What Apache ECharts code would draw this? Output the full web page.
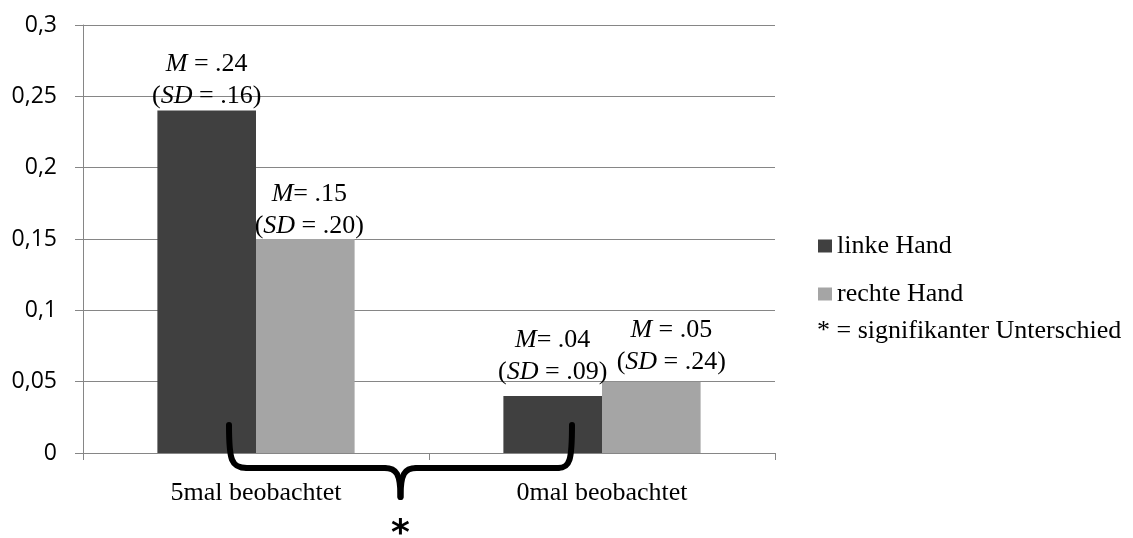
<!DOCTYPE html>
<html><head><meta charset="utf-8">
<script src="https://cdn.jsdelivr.net/npm/echarts@6/dist/echarts.min.js"></script>
<style>html,body{margin:0;padding:0;background:#fff}#c{width:1133px;height:538px}</style>
</head><body><div id="c"></div>
<script>
const categories = ["5mal beobachtet", "0mal beobachtet"];
const seriesNames = ["linke Hand", "rechte Hand"];
const linkeHand = [0.24, 0.04];
const rechteHand = [0.15, 0.05];
const linkeLabels = ["{i|M} = .24\n({i|SD} = .16)", "{i|M}= .04\n({i|SD} = .09)"];
const rechteLabels = ["{i|M}= .15\n({i|SD} = .20)", "{i|M} = .05\n({i|SD} = .24)"];
const yTicks = [0, 0.05, 0.1, 0.15, 0.2, 0.25, 0.3];
const noteText = "* = signifikanter Unterschied";

const serif = "'Liberation Serif', 'Times New Roman', serif";
const labelOffsets = [[[0, 2], [0, -8]], [[4, 3], [20, -3]]];

function mkData(vals, labels, si) {
  return vals.map((v, i) => ({
    value: v,
    label: { formatter: labels[i], offset: labelOffsets[si][i] }
  }));
}
const labelStyle = {
  show: true, position: 'top', distance: 0, color: '#000',
  fontFamily: serif, fontSize: 26, lineHeight: 32,
  rich: { i: { fontStyle: 'italic', fontFamily: serif, fontSize: 26, lineHeight: 32, color: '#000' } }
};

const chart = echarts.init(document.getElementById('c'), null, { renderer: 'canvas' });
chart.setOption({
  animation: false,
  backgroundColor: '#fff',
  grid: { left: 83, right: 358, top: 25, bottom: 85, containLabel: false },
  legend: {
    orient: 'vertical', left: 818, top: 233, padding: 0,
    itemWidth: 14, itemHeight: 13, itemGap: 22, icon: 'rect',
    textStyle: { fontFamily: serif, fontSize: 26, color: '#000' },
    data: seriesNames
  },
  xAxis: {
    type: 'category', data: categories,
    axisLine: { lineStyle: { color: '#868686', width: 1 } },
    axisTick: { show: true, length: 7, lineStyle: { color: '#868686' } },
    axisLabel: { color: '#000', fontFamily: serif, fontSize: 26, margin: 27 }
  },
  yAxis: {
    type: 'value', min: 0, max: 0.3, interval: 0.05,
    axisLine: { show: true, lineStyle: { color: '#868686', width: 1 } },
    axisTick: { show: true, length: 8, lineStyle: { color: '#868686' } },
    splitLine: { lineStyle: { color: '#868686', width: 1 } },
    axisLabel: {
      color: '#000', fontFamily: "'Open Sans', sans-serif", fontSize: 23, margin: 26,
      formatter: v => { const t = yTicks.find(x => Math.abs(x - v) < 1e-9); return String(t !== undefined ? t : v).replace('.', ','); }
    }
  },
  series: [
    { name: seriesNames[0], type: 'bar', data: mkData(linkeHand, linkeLabels, 0), barGap: '0%', barCategoryGap: '43%',
      itemStyle: { color: '#404040' }, label: labelStyle },
    { name: seriesNames[1], type: 'bar', data: mkData(rechteHand, rechteLabels, 1), barGap: '0%', barCategoryGap: '43%',
      itemStyle: { color: '#a5a5a5' }, label: labelStyle }
  ]
});

// brace annotation below the axis, anchored to the grid
const p0 = chart.convertToPixel({ gridIndex: 0 }, [0, 0]);
const p1 = chart.convertToPixel({ gridIndex: 0 }, [1, 0]);
const base = p0[1];
const xl = p0[0] - 27, xr = p1[0] - 30, xm = (xl + xr) / 2;
const yt = base - 28, yh = base + 15, yp = base + 44;
const st = { stroke: '#000', lineWidth: 6, fill: 'none', lineCap: 'round' };
const bz = (x1, y1, c1x, c1y, c2x, c2y, x2, y2) => ({ type: 'bezierCurve', shape: { x1, y1, cpx1: c1x, cpy1: c1y, cpx2: c2x, cpy2: c2y, x2, y2 }, style: st, z: 100 });
const ln = (x1, y1, x2, y2) => ({ type: 'line', shape: { x1, y1, x2, y2 }, style: st, z: 100 });
chart.setOption({
  graphic: [
    bz(xl, yt, xl, yh - 8, xl + 2, yh, xl + 18, yh),
    ln(xl + 18, yh, xm - 16, yh),
    bz(xm - 16, yh, xm - 4, yh, xm, yh + 6, xm, yp),
    bz(xm, yp, xm, yh + 6, xm + 4, yh, xm + 16, yh),
    ln(xm + 16, yh, xr - 14, yh),
    bz(xr - 14, yh, xr - 2, yh, xr, yh - 8, xr, yt),
    { type: 'text', x: xm, y: base + 64, style: { text: '*', fontFamily: "'DejaVu Sans', sans-serif", fontSize: 36, fontWeight: 'bold', fill: '#000', align: 'center', verticalAlign: 'top' }, z: 100 },
    { type: 'text', x: 817, y: 318, style: { text: noteText, fontFamily: serif, fontSize: 26, fill: '#000', align: 'left', verticalAlign: 'top' } }
  ]
});
</script></body></html>
